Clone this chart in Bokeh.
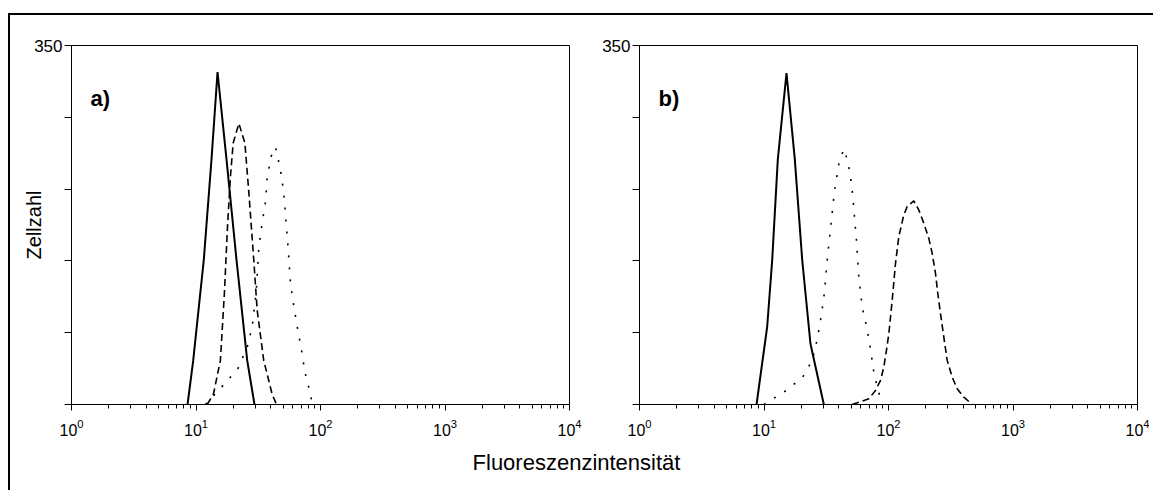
from bokeh.plotting import figure
from bokeh.models import Range1d, FixedTicker, CustomJSTickFormatter, Label
from bokeh.layouts import column, row
from bokeh.embed import file_html
from bokeh.resources import INLINE

FONT = "Liberation Sans"

# ---- data (fluorescence intensity, cell count) ----
a_solid_x = [8.55, 9.5, 11.55, 13.32, 14.89, 17.58, 21.15, 25.78, 29.5]
a_solid_y = [0, 43, 141, 239, 324, 239, 141, 43, 0]
a_dash_x = [12.3, 13.8, 15.7, 16.9, 17.9, 18.9, 19.9, 22.1, 24.7, 26.6, 29.1, 31.0, 35.0, 40.9, 44.3]
a_dash_y = [0, 10, 43, 108, 173, 222, 255, 274, 255, 206, 141, 92, 43, 10, 0]
a_dot_x = [11.9, 16.9, 21.7, 25.8, 28.3, 30.5, 32.0, 34.0, 36.2, 37.3, 40.2, 43.5, 47.7,
           50.7, 52.3, 55.0, 57.4, 61.0, 65.0, 70.4, 74.8, 83.1, 85.8]
a_dot_y = [0, 20, 35, 56, 76, 111, 154, 177, 198, 221, 242, 251, 229, 206, 185, 152, 118,
           96, 76, 53, 32, 10, 0]

b_solid_x = [8.71, 10.61, 11.64, 12.91, 15.16, 17.68, 20.27, 23.63, 30.25]
b_solid_y = [0, 76, 141, 239, 323, 239, 141, 59, 0]
b_dot_x = [9.97, 14.4, 20.3, 24.4, 26.8, 28.8, 30.5, 32.2, 34.4, 36.8, 40.6, 44.3, 48.9,
           51.4, 53.3, 55.3, 57.4, 61.5, 67.5, 72.1, 76.8, 84.7, 86.3]
b_dot_y = [0, 12, 26, 43, 64, 86, 108, 141, 174, 208, 240, 249, 227, 206, 183, 160, 128,
           95, 73, 52, 29, 9, 0]
b_dash_x = [51.1, 69.5, 78.6, 86.3, 91.7, 96.3, 100.6, 107.1, 113.8, 121.0, 132.7, 141.3,
            159.7, 175.1, 192.1, 210.7, 224.4, 238.5, 248.9, 261.6, 278.1, 296.1, 324.8,
            356.2, 402.6, 470.2]
b_dash_y = [0, 5.5, 13.7, 23.5, 36.5, 52.8, 69, 101.7, 137.5, 163.6, 184.8, 193, 198.5,
            189.7, 176.7, 162, 147.3, 127.8, 108.2, 88.7, 65.8, 43, 26.7, 15.3, 7.2, 0]

x_major_ticks = [1, 10, 100, 1000, 10000]
y_ticks = [0, 70, 140, 210, 280, 350]
y_label_tick = 350
panel_tags = ["a)", "b)"]
x_title = "Fluoreszenzintensität"
y_title = "Zellzahl"

x_minor_ticks = [m * d for d in [1, 10, 100, 1000] for m in range(2, 10)]


def make_panel(tag, series, width, left, right, ylabel=None):
    p = figure(width=width, height=429, x_axis_type="log",
               x_range=Range1d(1, 10000), y_range=Range1d(0, 350),
               output_backend="svg", toolbar_location=None,
               min_border_left=left, min_border_right=right,
               min_border_top=30, min_border_bottom=40)
    p.grid.visible = False
    p.outline_line_color = "black"
    p.outline_line_width = 1
    p.outline_line_alpha = 1
    p.background_fill_color = "white"
    p.border_fill_color = "white"

    xa = p.xaxis[0]
    xa.ticker = FixedTicker(ticks=x_major_ticks, minor_ticks=x_minor_ticks)
    xa.major_tick_in = 0
    xa.major_tick_out = 6
    xa.minor_tick_in = 0
    xa.minor_tick_out = 4
    xa.axis_line_color = "black"
    xa.major_tick_line_color = "black"
    xa.minor_tick_line_color = "black"
    xa.major_label_text_font = FONT
    xa.major_label_text_font_size = "16px"
    xa.major_label_text_color = "black"
    xa.major_label_standoff = 8

    ya = p.yaxis[0]
    ya.ticker = FixedTicker(ticks=y_ticks, minor_ticks=[])
    ya.formatter = CustomJSTickFormatter(code="return tick == %d ? '%d' : '';" % (y_label_tick, y_label_tick))
    ya.major_tick_in = 0
    ya.major_tick_out = 7
    ya.minor_tick_in = 0
    ya.minor_tick_out = 0
    ya.axis_line_color = "black"
    ya.major_tick_line_color = "black"
    ya.major_label_text_font = FONT
    ya.major_label_text_font_size = "17px"
    ya.major_label_text_color = "black"
    ya.major_label_standoff = 2
    if ylabel:
        ya.axis_label = ylabel
        ya.axis_label_text_font = FONT
        ya.axis_label_text_font_size = "20px"
        ya.axis_label_text_font_style = "normal"
        ya.axis_label_text_color = "black"
        ya.axis_label_standoff = -14

    for (xs, ys, dash, lw) in series:
        p.line(xs, ys, line_color="black", line_width=lw, line_dash=dash)

    p.add_layout(Label(x=1.42, y=298, text=tag, text_font=FONT, text_font_style="bold",
                       text_font_size="22px", text_color="black",
                       text_align="left", text_baseline="alphabetic"))
    return p


pa = make_panel(panel_tags[0], [
    (a_solid_x, a_solid_y, "solid", 2),
    (a_dash_x, a_dash_y, "7 4", 1.6),
    (a_dot_x, a_dot_y, "2 10", 1.6),
], width=61 + 498 + 29, left=61, right=29, ylabel=y_title)

pb = make_panel(panel_tags[1], [
    (b_solid_x, b_solid_y, "solid", 2),
    (b_dot_x, b_dot_y, "2 10", 1.6),
    (b_dash_x, b_dash_y, "7 4", 1.6),
], width=41 + 498 + 12, left=41, right=12)

pbot = figure(width=1143, height=46, x_range=Range1d(0, 1143), y_range=Range1d(0, 46),
              output_backend="svg", toolbar_location=None,
              x_axis_location=None, y_axis_location=None, min_border=0)
pbot.grid.visible = False
pbot.outline_line_color = None
pbot.border_fill_color = "white"
pbot.add_layout(Label(x=566, y=28, text=x_title, text_font=FONT, text_font_size="22px",
                      text_color="black", text_align="center", text_baseline="alphabetic"))

layout = column(row(pa, pb), pbot,
                styles={"border-top": "2px solid black", "border-left": "2px solid black",
                        "margin-top": "13px", "margin-left": "8px"})

open("out.html", "w").write(file_html(layout, INLINE))
